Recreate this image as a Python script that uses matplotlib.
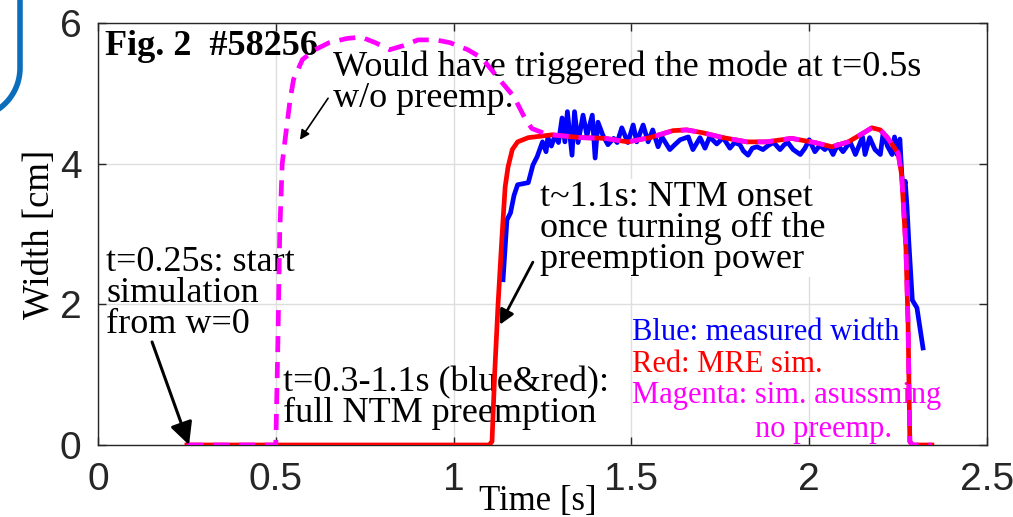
import numpy as np
import matplotlib
matplotlib.use('Agg')
import matplotlib.pyplot as plt
from matplotlib.lines import Line2D

# measured island width (blue)
t_meas = [1.139, 1.15, 1.16, 1.17, 1.18, 1.21, 1.223, 1.235, 1.25, 1.26, 1.265, 1.275,
          1.285, 1.295, 1.305, 1.313, 1.32, 1.333, 1.34, 1.35, 1.364, 1.375, 1.39, 1.398,
          1.406, 1.42, 1.434, 1.45, 1.46, 1.473, 1.49, 1.505, 1.515, 1.533, 1.547, 1.56,
          1.575, 1.586, 1.608, 1.62, 1.637, 1.66, 1.673, 1.693, 1.707, 1.72, 1.74, 1.758,
          1.777, 1.79, 1.805, 1.815, 1.828, 1.84, 1.853, 1.87, 1.885, 1.90, 1.918, 1.93,
          1.94, 1.955, 1.975, 1.988, 2.0, 2.016, 2.03, 2.044, 2.055, 2.067, 2.08, 2.095,
          2.115, 2.13, 2.15, 2.157, 2.17, 2.185, 2.2, 2.208, 2.22, 2.233, 2.24, 2.247,
          2.255, 2.26, 2.264, 2.27, 2.275, 2.28, 2.29, 2.303, 2.32]
w_meas = [2.35, 3.2, 3.3, 3.55, 3.70, 3.73, 3.98, 4.1, 4.31, 4.17, 4.37, 4.25,
          4.40, 4.30, 4.65, 4.31, 4.74, 4.12, 4.74, 4.30, 4.69, 4.40, 4.69, 4.08,
          4.59, 4.40, 4.27, 4.36, 4.30, 4.51, 4.30, 4.55, 4.31, 4.55, 4.31, 4.48,
          4.24, 4.38, 4.20, 4.26, 4.34, 4.38, 4.20, 4.37, 4.22, 4.38, 4.28, 4.37,
          4.22, 4.30, 4.27, 4.18, 4.12, 4.22, 4.24, 4.20, 4.26, 4.30, 4.20, 4.27,
          4.30, 4.20, 4.13, 4.22, 4.34, 4.17, 4.26, 4.20, 4.25, 4.13, 4.27, 4.17,
          4.31, 4.13, 4.38, 4.13, 4.37, 4.20, 4.13, 4.44, 4.25, 4.13, 4.38, 4.13,
          4.35, 3.88, 3.6, 3.75, 3.39, 2.9, 2.06, 1.95, 1.38]

# MRE simulation (red)
t_sim = [0.25, 1.10, 1.108, 1.116, 1.125, 1.136, 1.145, 1.153, 1.165, 1.18, 1.21, 1.277,
         1.36, 1.425, 1.49, 1.552, 1.617, 1.656, 1.70, 1.758, 1.825, 1.88, 1.95, 2.016,
         2.064, 2.11, 2.157, 2.176, 2.2, 2.22, 2.25, 2.26, 2.272, 2.278, 2.283, 2.29, 2.345]
w_sim = [0.0, 0.0, 0.05, 1.07, 2.0, 2.96, 3.67, 3.95, 4.2, 4.31, 4.37, 4.41,
         4.37, 4.36, 4.31, 4.37, 4.47, 4.48, 4.44, 4.37, 4.31, 4.31, 4.36, 4.30,
         4.24, 4.31, 4.45, 4.51, 4.48, 4.37, 4.15, 3.84, 2.8, 1.73, 0.05, 0.0, 0.0]

# simulation without preemption (magenta), joins red after t~1.27
t_nopre = [0.25, 0.50, 0.506, 0.511, 0.518, 0.53, 0.54, 0.55, 0.575, 0.61, 0.65, 0.70,
           0.74, 0.78, 0.82, 0.86, 0.90, 0.95, 0.99, 1.04, 1.08, 1.12, 1.17, 1.20, 1.22, 1.26]
w_nopre = [0.0, 0.0, 1.5, 3.0, 4.0, 4.5, 4.9, 5.2, 5.48, 5.62, 5.72, 5.78,
           5.80, 5.72, 5.62, 5.68, 5.76, 5.76, 5.72, 5.62, 5.5, 5.25, 4.95, 4.65, 4.5, 4.42]
t_nopre = t_nopre + [t for t in t_sim if t > 1.27]
w_nopre = w_nopre + [w for t, w in zip(t_sim, w_sim) if t > 1.27]

xticks = [0, 0.5, 1, 1.5, 2, 2.5]
yticks = [0, 2, 4, 6]

serif = 'Liberation Serif'
W, H = 1013, 517
fig = plt.figure(figsize=(W / 100, H / 100), dpi=100)
ax = fig.add_axes([98 / W, (H - 445) / H, 889 / W, 422 / H])

ax.plot(t_meas, w_meas, color='#0000FF', lw=3.4, zorder=4)
ax.plot(t_sim, w_sim, color='#FF0000', lw=3.4, zorder=5)
ax.plot(t_nopre, w_nopre, color='#FF00FF', lw=3.4, ls=(0, (3.4, 2.1)), zorder=6)

ax.set_xlim(0, 2.5)
ax.set_ylim(0, 6)
ax.set_xticks(xticks)
ax.set_xticklabels(['0', '0.5', '1', '1.5', '2', '2.5'])
ax.set_yticks(yticks)
ax.grid(True, color='#DEDEDE', lw=1)
ax.set_axisbelow(True)
ax.tick_params(direction='in', length=6, width=1, colors='#262626', top=True, right=True,
               labelsize=28, pad=12)
for lab in ax.get_xticklabels() + ax.get_yticklabels():
    lab.set_family('Liberation Sans')
for sp in ax.spines.values():
    sp.set_color('#262626')
    sp.set_linewidth(1)

ax.set_xlabel('Time [s]', family=serif, fontsize=25)
ax.xaxis.set_label_coords(0.495, -0.095)
ax.set_ylabel('Width [cm]', family=serif, fontsize=26.5)
ax.yaxis.set_label_coords(-0.046, 0.5)

# annotations (y = baseline of the last line)
txt = dict(family=serif, fontsize=26, va='baseline', linespacing=0.92)
ax.text(0.02, 5.545, 'Fig. 2  #58256', family=serif, fontweight='bold', fontsize=26)
ax.text(0.661, 4.806, 'Would have triggered the mode at t=0.5s\nw/o preemp.', **txt)
ax.text(0.0225, 1.59, 't=0.25s: start\nsimulation\nfrom w=0', **txt)
ax.text(0.52, 0.327, 't=0.3-1.1s (blue&red):\nfull NTM preemption', **txt)
ax.text(1.243, 2.517, 't~1.1s: NTM onset\nonce turning off the\npreemption power',
        bbox=dict(facecolor='white', edgecolor='none', pad=1), **txt)

ax.text(1.502, 1.49, 'Blue: measured width', color='#0000FF', family=serif, fontsize=22)
ax.text(1.502, 1.04, 'Red: MRE sim.', color='#FF0000', family=serif, fontsize=22)
ax.text(1.502, 0.60, 'Magenta: sim. asussming', color='#FF00FF', family=serif, fontsize=22)
ax.text(1.848, 0.11, 'no preemp.', color='#FF00FF', family=serif, fontsize=22)

ax.annotate('', xy=(0.568, 4.34), xytext=(0.647, 4.93),
            arrowprops=dict(arrowstyle='-|>', lw=1.2, color='k', mutation_scale=14,
                            shrinkA=0, shrinkB=0))
ax.annotate('', xy=(0.256, 0.0), xytext=(0.152, 1.465),
            arrowprops=dict(arrowstyle='-|>', lw=2.2, color='k', mutation_scale=34,
                            shrinkA=0, shrinkB=0), zorder=7)
ax.annotate('', xy=(1.130, 1.71), xytext=(1.223, 2.60),
            arrowprops=dict(arrowstyle='-|>', lw=2, color='k', mutation_scale=22,
                            shrinkA=0, shrinkB=0), zorder=7)

# corner of the slide frame peeking in at the top left
th = np.linspace(0, -np.pi / 2, 40)
px = np.concatenate([[20, 20], -30 + 50 * np.cos(th)])
py = np.concatenate([[-5, 68], 68 - 50 * np.sin(th)])
fig.add_artist(Line2D(px / W, 1 - py / H, color='#0A6EBD', lw=4,
                      transform=fig.transFigure))

fig.savefig('out.png', dpi=100)
